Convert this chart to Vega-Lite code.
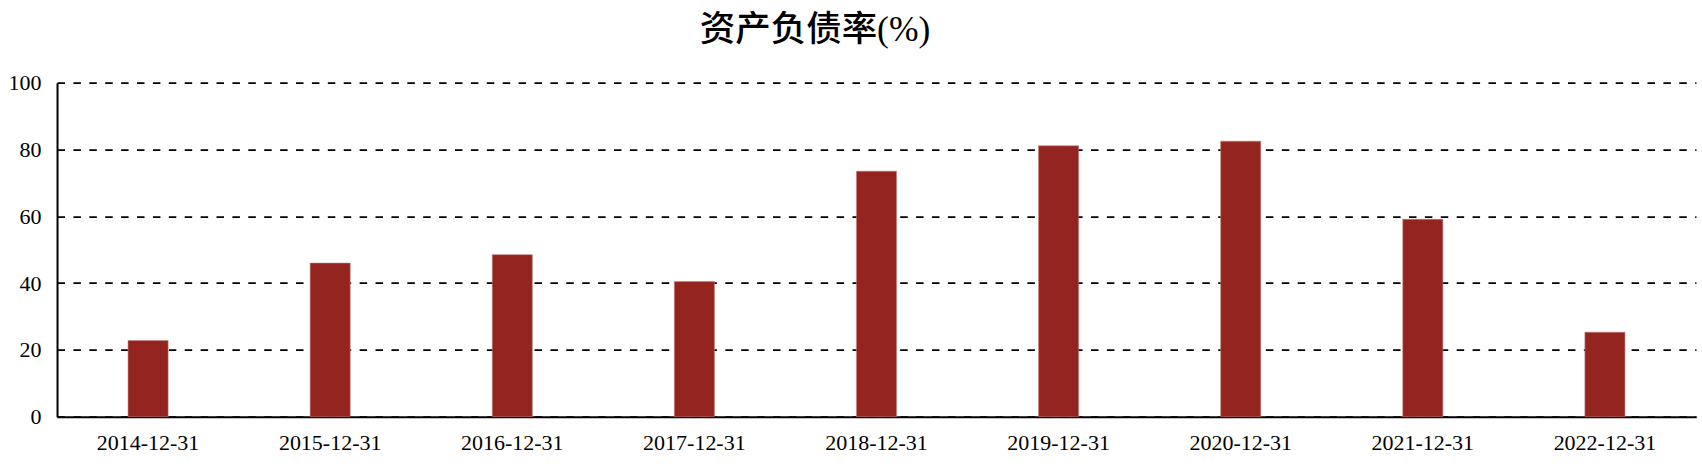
{
  "$schema": "https://vega.github.io/schema/vega-lite/v6.json",
  "autosize": {"type": "none"},
  "padding": {"left": 57, "top": 82.7, "right": 6, "bottom": 49},
  "width": 1639,
  "height": 334,
  "background": "white",
  "title": {
    "text": "资产负债率(%)",
    "font": "Liberation Serif, Noto Sans CJK SC",
    "fontSize": 35.5,
    "fontWeight": 500,
    "color": "#000000",
    "anchor": "middle",
    "frame": "group",
    "baseline": "alphabetic",
    "offset": -4.5,
    "dx": -61.5
  },
  "data": {
    "values": [
      {"date": "2014-12-31", "value": 22.8},
      {"date": "2015-12-31", "value": 46.0},
      {"date": "2016-12-31", "value": 48.5},
      {"date": "2017-12-31", "value": 40.5},
      {"date": "2018-12-31", "value": 73.5},
      {"date": "2019-12-31", "value": 81.1},
      {"date": "2020-12-31", "value": 82.5},
      {"date": "2021-12-31", "value": 59.1},
      {"date": "2022-12-31", "value": 25.3}
    ]
  },
  "mark": {"type": "bar", "color": "#94241f", "stroke": "#c47a76", "strokeWidth": 0.6},
  "encoding": {
    "x": {
      "field": "date",
      "type": "nominal",
      "sort": null,
      "scale": {"paddingInner": 0.78, "paddingOuter": 0.39},
      "axis": {
        "title": null,
        "labelAngle": 0,
        "ticks": false,
        "labelPadding": 15.8,
        "labelFont": "Liberation Serif",
        "labelFontSize": 22,
        "labelColor": "#000000",
        "domainColor": "#000000",
        "domainWidth": 2,
        "grid": false
      }
    },
    "y": {
      "field": "value",
      "type": "quantitative",
      "scale": {"domain": [0, 100], "nice": false},
      "axis": {
        "title": null,
        "values": [0, 20, 40, 60, 80, 100],
        "ticks": false,
        "labelPadding": 16,
        "labelFont": "Liberation Serif",
        "labelFontSize": 22,
        "labelColor": "#000000",
        "domainColor": "#000000",
        "domainWidth": 2,
        "grid": true,
        "gridColor": "#000000",
        "gridWidth": 1.8,
        "gridDash": [7.5, 8.4],
        "gridOpacity": 1
      }
    }
  },
  "config": {
    "view": {"stroke": null}
  }
}
